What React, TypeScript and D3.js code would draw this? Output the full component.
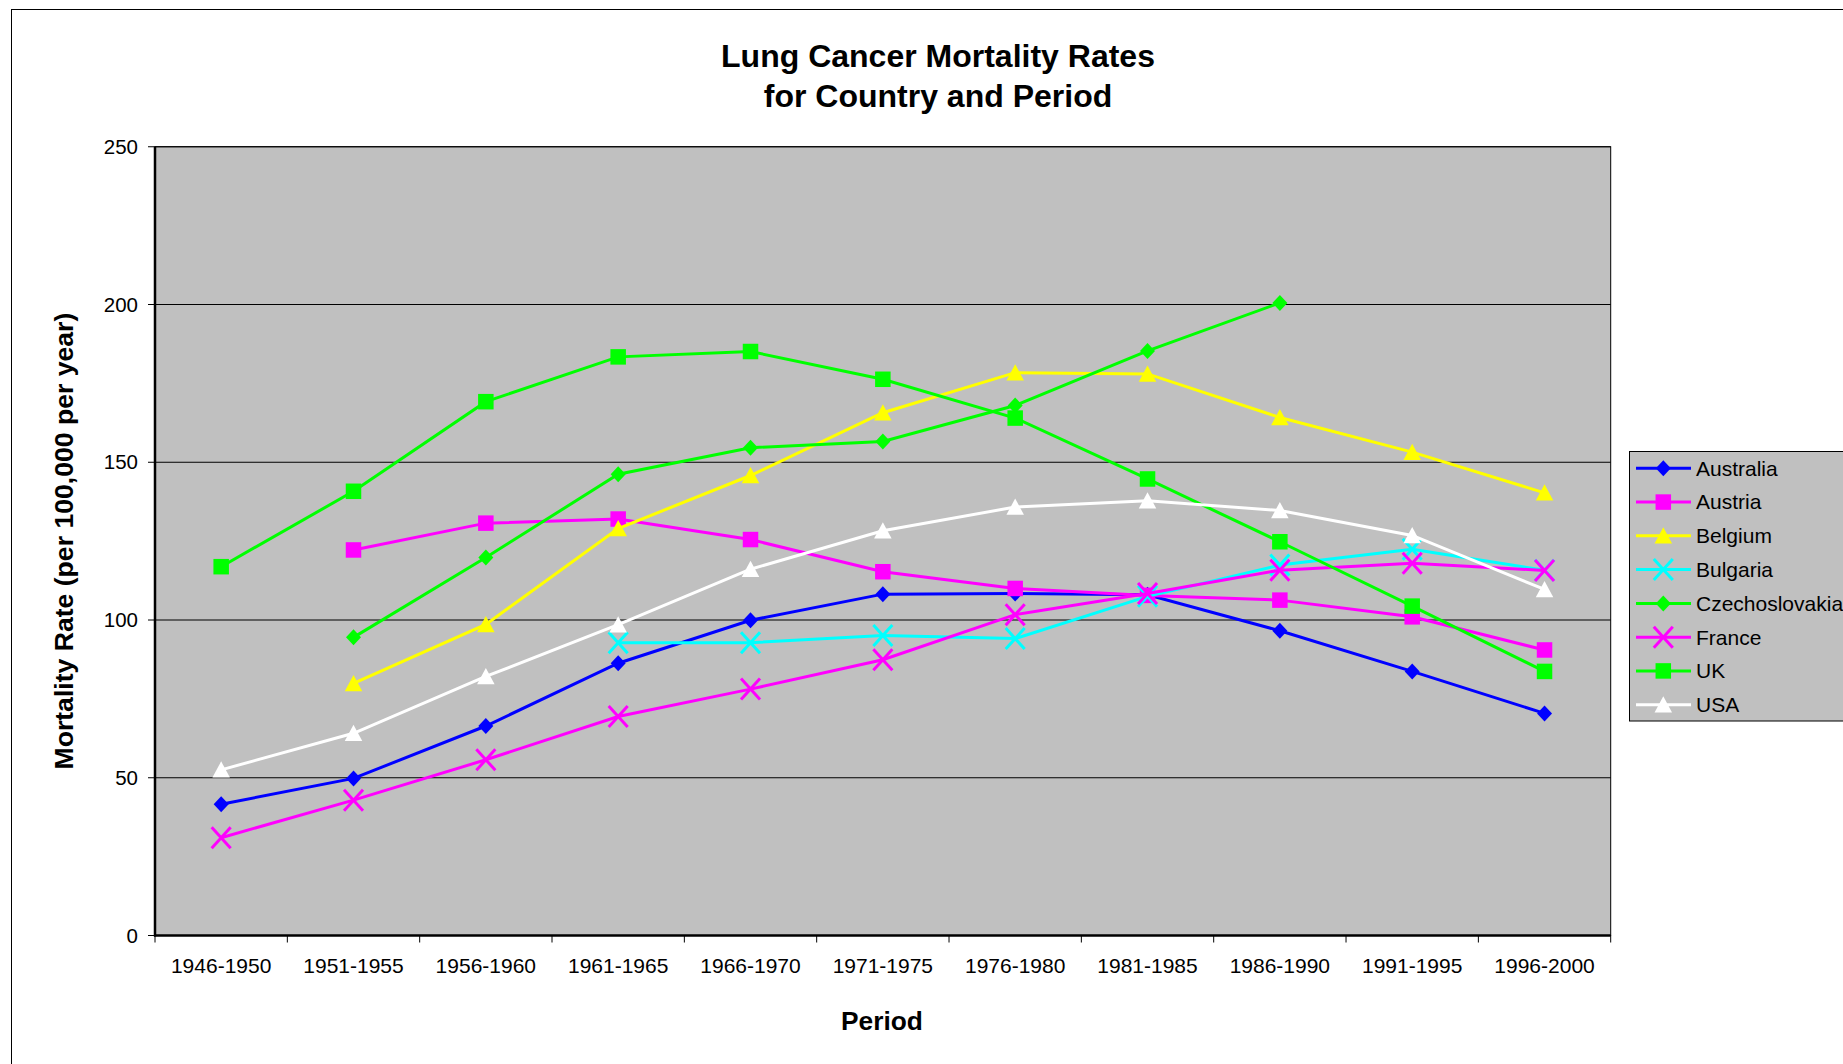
import React from "react";
import * as d3 from "d3";

const periods = ["1946-1950", "1951-1955", "1956-1960", "1961-1965", "1966-1970", "1971-1975", "1976-1980", "1981-1985", "1986-1990", "1991-1995", "1996-2000"];
const yTicks = [0, 50, 100, 150, 200, 250];

const australia = [41.6, 49.8, 66.4, 86.3, 99.9, 108.2, 108.4, 108.0, 96.6, 83.7, 70.4];
const austria = [null, 122.2, 130.7, 132.0, 125.5, 115.3, 110.0, 107.8, 106.3, 101.0, 90.5];
const belgium = [null, 79.9, 98.6, 129.0, 145.8, 165.7, 178.4, 178.0, 164.2, 153.2, 140.3];
const bulgaria = [null, null, null, 92.8, 92.8, 95.1, 94.1, 107.5, 117.4, 122.4, 115.8];
const czechoslovakia = [null, 94.5, 119.8, 146.2, 154.6, 156.6, 168.0, 185.3, 200.5, null, null];
const france = [31.0, 42.9, 55.7, 69.4, 78.1, 87.4, 101.7, 108.4, 115.8, 118.0, 115.7];
const uk = [116.9, 140.8, 169.2, 183.4, 185.1, 176.3, 164.0, 144.7, 124.8, 104.4, 83.7];
const usa = [52.5, 64.1, 82.1, 98.5, 116.1, 128.3, 135.8, 137.8, 134.7, 126.8, 109.7];

const seriesNames = ["Australia", "Austria", "Belgium", "Bulgaria", "Czechoslovakia", "France", "UK", "USA"];
const seriesValues = [australia, austria, belgium, bulgaria, czechoslovakia, france, uk, usa];
const seriesColors = ["#0000FF", "#FF00FF", "#FFFF00", "#00FFFF", "#00FF00", "#FF00FF", "#00FF00", "#FFFFFF"];
const seriesMarkers = ["diamond", "square", "triangle", "x", "diamond", "x", "square", "triangle"];

const FONT = "'Liberation Sans', Arial, Helvetica, sans-serif";

function Marker({ type, cx, cy, color }: { type: string; cx: number; cy: number; color: string }) {
  if (type === "diamond") {
    return <path d={`M${cx},${cy - 8}L${cx + 7.5},${cy}L${cx},${cy + 8}L${cx - 7.5},${cy}Z`} fill={color} />;
  }
  if (type === "square") {
    return <rect x={cx - 7.75} y={cy - 7.75} width={15.5} height={15.5} fill={color} />;
  }
  if (type === "triangle") {
    return <path d={`M${cx},${cy - 8.5}L${cx + 8.75},${cy + 7.75}L${cx - 8.75},${cy + 7.75}Z`} fill={color} />;
  }
  return (
    <path
      d={`M${cx - 9.5},${cy - 10.5}L${cx + 9.5},${cy + 10.5}M${cx + 9.5},${cy - 10.5}L${cx - 9.5},${cy + 10.5}`}
      stroke={color}
      strokeWidth={3}
      fill="none"
    />
  );
}

export default function App() {
  const W = 1843;
  const H = 1064;
  const left = 155;
  const right = 1610.7;
  const top = 146.75;
  const bottom = 935.5;

  const x = d3.scaleBand<string>().domain(periods).range([left, right]).padding(0);
  const bw = x.bandwidth();
  const cx = (p: string) => (x(p) as number) + bw / 2;
  const y = d3.scaleLinear().domain([0, 250]).range([bottom, top]);

  const line = d3
    .line<number | null>()
    .defined((d) => d !== null)
    .x((_, i) => cx(periods[i]))
    .y((d) => y(d as number));

  const boundaries = periods.map((p) => x(p) as number).concat([right]);

  const legX = 1629.5;
  const legY = 451.5;
  const legStep = 33.77;
  const legFirst = 468.3;

  return (
    <svg
      width={W}
      height={H}
      style={{ position: "absolute", left: 0, top: 0, background: "#fff" }}
      fontFamily={FONT}
    >
      <rect x={0} y={0} width={W} height={H} fill="#fff" />
      <rect x={11.5} y={9.5} width={2000} height={2000} fill="none" stroke="#000" strokeWidth={1} />

      <text x={938} y={66.7} textAnchor="middle" fontSize={32} fontWeight="bold" fill="#000">
        Lung Cancer Mortality Rates
      </text>
      <text x={938} y={107.3} textAnchor="middle" fontSize={32} fontWeight="bold" fill="#000">
        for Country and Period
      </text>

      {/* plot area */}
      <rect x={left} y={top} width={right - left} height={bottom - top} fill="#C0C0C0" stroke="#000" strokeWidth={1} />

      {yTicks.map((t) => (
        <g key={t}>
          {t > 0 && <line x1={left} x2={right} y1={y(t)} y2={y(t)} stroke="#000" strokeWidth={1} />}
          <line x1={left - 7} x2={left} y1={y(t)} y2={y(t)} stroke="#000" strokeWidth={1} />
          <text x={138} y={y(t)} dy="0.35em" textAnchor="end" fontSize={20.5} fill="#000">
            {t}
          </text>
        </g>
      ))}

      {boundaries.map((b, i) => (
        <line key={i} x1={b} x2={b} y1={bottom} y2={bottom + 7} stroke="#000" strokeWidth={1} />
      ))}

      {periods.map((p) => (
        <text key={p} x={cx(p)} y={972.7} textAnchor="middle" fontSize={21} fill="#000">
          {p}
        </text>
      ))}

      <line x1={left} x2={left} y1={top} y2={bottom + 1} stroke="#000" strokeWidth={2.5} />
      <line x1={left - 1} x2={right} y1={bottom} y2={bottom} stroke="#000" strokeWidth={2.5} />

      {seriesNames.map((name, si) => (
        <g key={name}>
          <path d={line(seriesValues[si]) || ""} fill="none" stroke={seriesColors[si]} strokeWidth={3} />
          {seriesValues[si].map((v, i) =>
            v === null ? null : (
              <Marker key={i} type={seriesMarkers[si]} cx={cx(periods[i])} cy={y(v)} color={seriesColors[si]} />
            )
          )}
        </g>
      ))}

      <text x={882} y={1029.5} textAnchor="middle" fontSize={26.3} fontWeight="bold" fill="#000">
        Period
      </text>
      <text
        transform={`translate(72.5,${(top + bottom) / 2}) rotate(-90)`}
        textAnchor="middle"
        fontSize={26.6}
        fontWeight="bold"
        fill="#000"
      >
        Mortality Rate (per 100,000 per year)
      </text>

      {/* legend */}
      <rect x={legX} y={legY} width={400} height={269.5} fill="#C0C0C0" stroke="#000" strokeWidth={1} />
      {seriesNames.map((name, si) => {
        const ly = legFirst + si * legStep;
        return (
          <g key={name}>
            <line x1={1636} x2={1691} y1={ly} y2={ly} stroke={seriesColors[si]} strokeWidth={3} />
            <Marker type={seriesMarkers[si]} cx={1663.3} cy={ly} color={seriesColors[si]} />
            <text x={1696} y={ly} dy="0.35em" fontSize={21} fill="#000">
              {name}
            </text>
          </g>
        );
      })}
    </svg>
  );
}
